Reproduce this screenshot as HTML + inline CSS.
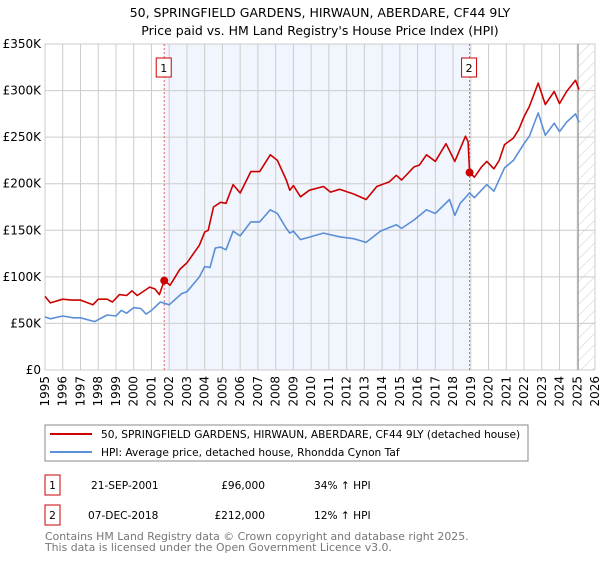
<!DOCTYPE html>
<html><head><meta charset="utf-8"><style>
body{margin:0;background:#fff;font-family:"Liberation Sans","DejaVu Sans",sans-serif;}
svg text{font-family:"DejaVu Sans","Liberation Sans",sans-serif;}
</style></head><body>
<svg id="chart" width="600" height="560" xmlns="http://www.w3.org/2000/svg">
<defs><pattern id="hatch" patternUnits="userSpaceOnUse" width="8" height="8" patternTransform="rotate(45)"><line x1="0" y1="0" x2="0" y2="8" stroke="#ccc" stroke-width="1"/></pattern></defs>
<text x="320" y="17" text-anchor="middle" font-size="12.5">50, SPRINGFIELD GARDENS, HIRWAUN, ABERDARE, CF44 9LY</text>
<text x="320" y="35" text-anchor="middle" font-size="12.5">Price paid vs. HM Land Registry's House Price Index (HPI)</text>
<g id="plot"></g>
<rect x="45" y="425" width="483" height="36" fill="#fff" stroke="#888"/>
<line x1="50" y1="434" x2="92" y2="434" stroke="#cc0000" stroke-width="2"/>
<text x="101" y="438" font-size="10.6">50, SPRINGFIELD GARDENS, HIRWAUN, ABERDARE, CF44 9LY (detached house)</text>
<line x1="50" y1="452" x2="92" y2="452" stroke="#5b8fd6" stroke-width="2"/>
<text x="101" y="456" font-size="10.6">HPI: Average price, detached house, Rhondda Cynon Taf</text>
<g font-size="10.6">
<rect x="45" y="475" width="15" height="20" fill="#fff" stroke="#cc0000"/>
<text x="52.5" y="489" text-anchor="middle">1</text>
<text x="91" y="489">21-SEP-2001</text>
<text x="265" y="489" text-anchor="end">£96,000</text>
<text x="314" y="489">34% ↑ HPI</text></g>
<g font-size="10.6">
<rect x="45" y="505" width="15" height="20" fill="#fff" stroke="#cc0000"/>
<text x="52.5" y="519" text-anchor="middle">2</text>
<text x="88" y="519">07-DEC-2018</text>
<text x="265" y="519" text-anchor="end">£212,000</text>
<text x="314" y="519">12% ↑ HPI</text></g>
<text x="45" y="540" font-size="10.9" fill="#777">Contains HM Land Registry data © Crown copyright and database right 2025.</text>
<text x="45" y="551" font-size="10.9" fill="#777">This data is licensed under the Open Government Licence v3.0.</text>
</svg>
<script>
const yearTicks=[1995,1996,1997,1998,1999,2000,2001,2002,2003,2004,2005,2006,2007,2008,2009,2010,2011,2012,2013,2014,2015,2016,2017,2018,2019,2020,2021,2022,2023,2024,2025,2026];
const priceTicks=[0,50,100,150,200,250,300,350];
const priceTickLabels=["£0","£50K","£100K","£150K","£200K","£250K","£300K","£350K"];
const propYears=[1995.0,1995.3,1996.0,1996.5,1997.0,1997.7,1998.0,1998.5,1998.8,1999.2,1999.6,1999.9,2000.2,2000.9,2001.2,2001.45,2001.72,2002.05,2002.6,2003.0,2003.7,2004.0,2004.2,2004.5,2004.9,2005.2,2005.6,2006.0,2006.6,2007.1,2007.7,2008.1,2008.6,2008.8,2009.0,2009.4,2009.9,2010.7,2011.1,2011.6,2012.4,2013.1,2013.7,2014.4,2014.8,2015.1,2015.8,2016.1,2016.5,2017.0,2017.6,2018.1,2018.7,2018.85,2018.93,2019.2,2019.6,2019.9,2020.3,2020.6,2020.9,2021.4,2021.7,2022.0,2022.3,2022.8,2023.2,2023.7,2024.0,2024.4,2024.9,2025.1];
const propValues=[79,72,76,75,75,70,76,76,73,81,80,85,80,89,87,81,96,91,108,115,134,148,150,175,180,179,199,190,213,213,231,225,204,193,198,186,193,197,191,194,189,183,197,202,209,204,218,220,231,224,243,224,251,245,212,207,218,224,216,225,242,249,258,272,283,308,285,299,286,299,311,301];
const hpiYears=[1995.0,1995.3,1996.0,1996.6,1997.0,1997.8,1998.5,1999.0,1999.3,1999.6,2000.0,2000.4,2000.7,2001.0,2001.5,2002.0,2002.7,2003.0,2003.7,2004.0,2004.3,2004.6,2004.9,2005.2,2005.6,2006.0,2006.6,2007.1,2007.7,2008.1,2008.6,2008.8,2009.0,2009.4,2010.7,2011.6,2012.4,2013.1,2013.9,2014.8,2015.1,2015.8,2016.5,2017.0,2017.8,2018.1,2018.4,2018.93,2019.2,2019.9,2020.3,2020.9,2021.4,2022.0,2022.3,2022.8,2023.2,2023.7,2024.0,2024.4,2024.9,2025.1];
const hpiValues=[57,55,58,56,56,52,59,58,64,61,67,66,60,64,73,70,82,84,100,111,110,131,132,129,149,144,159,159,172,168,152,147,149,140,147,143,141,137,149,156,152,161,172,168,183,166,179,190,185,199,192,217,225,243,251,276,252,265,256,266,275,266];
const sales=[{n:"1",year:2001.72,value:96},{n:"2",year:2018.93,value:212}];

const NS="http://www.w3.org/2000/svg";
const L=45,R=595,T=44,B=370;
const x=y=>L+(y-1995)*(R-L)/31;
const yv=v=>B-v*(B-T)/350;
const plot=document.getElementById('plot');
function mk(tag,attrs,parent){const e=document.createElementNS(NS,tag);for(const k in attrs)e.setAttribute(k,attrs[k]);(parent||plot).appendChild(e);return e;}
let sh=mk('rect',{x:x(sales[0].year),y:T,width:x(sales[1].year)-x(sales[0].year),height:B-T,fill:'#eef3fd',opacity:0.8});


let hat=mk('rect',{x:x(2025.05),y:T,width:R-x(2025.05),height:B-T,fill:'url(#hatch)'});


yearTicks.forEach(yr=>{
  let g=mk('line',{x1:x(yr),x2:x(yr),y1:T,y2:B,stroke:'#ccc','stroke-width':1});
  
  
  let t=mk('text',{x:x(yr)+4,y:B+6,'font-size':12,transform:`rotate(-90 ${x(yr)+4} ${B+6})`,'text-anchor':'end'});
  t.textContent=yr;
  
  
});
priceTicks.forEach((p,i)=>{
  let g=mk('line',{x1:L,x2:R,y1:yv(p),y2:yv(p),stroke:'#ccc','stroke-width':1});
  
  
  let t=mk('text',{x:L-4,y:yv(p)+4,'font-size':12,'text-anchor':'end'});
  t.textContent=priceTickLabels[i];
  
  
});
let nl=mk('line',{x1:x(2025.05),x2:x(2025.05),y1:T,y2:B,stroke:'#888','stroke-width':1});


sales.forEach(s=>{
  let l=mk('line',{x1:x(s.year),x2:x(s.year),y1:T,y2:B,stroke:'#e06060','stroke-width':1,'stroke-dasharray':'2,2'});
  
  
  let b=mk('rect',{x:x(s.year)-8,y:58,width:15,height:19,fill:'#fff',stroke:'#cc0000'});
  
  
  let t=mk('text',{x:x(s.year)-0.5,y:72,'font-size':11,'text-anchor':'middle'});
  t.textContent=s.n;
  
  
});
function line(xs,vs,color,name){
  const d=xs.map((a,i)=>(i?'L':'M')+x(a).toFixed(1)+' '+yv(vs[i]).toFixed(1)).join(' ');
  let p=mk('path',{d:d,fill:'none',stroke:color,'stroke-width':1.6,'stroke-linejoin':'round'});
  
  
}
line(hpiYears,hpiValues,'#5b8fd6','hpi-line');
line(propYears,propValues,'#cc0000','property-price-line');
sales.forEach(s=>{
  let c=mk('circle',{cx:x(s.year),cy:yv(s.value),r:4,fill:'#cc0000'});
  
  
});
</script>
</body></html>
